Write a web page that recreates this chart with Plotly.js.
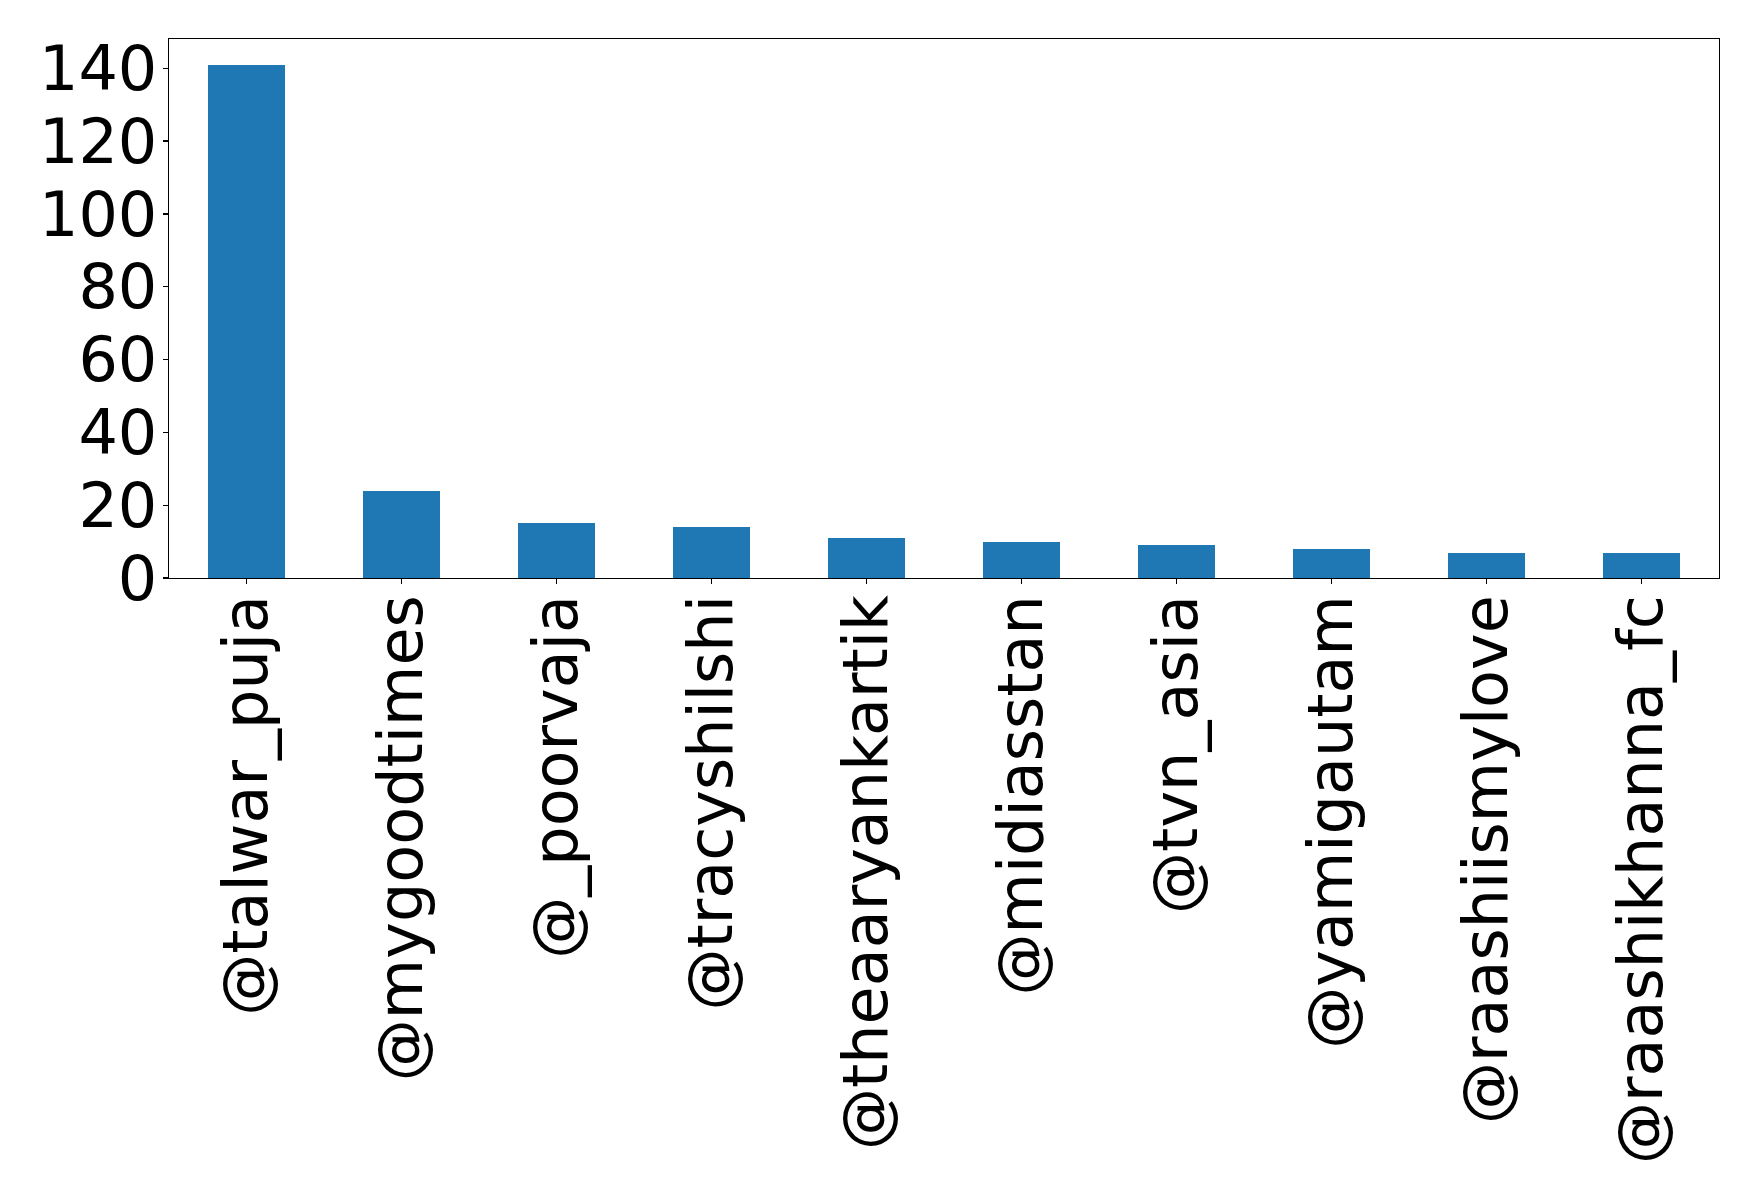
<!DOCTYPE html>
<html>
<head>
<meta charset="utf-8">
<script src="https://cdn.plot.ly/plotly-3.0.1.min.js"></script>
<style>html,body{margin:0;padding:0;background:#fff;}#chart{width:1758px;height:1201px;}</style>
</head>
<body>
<div id="chart"></div>
<script>
const handles = ["@talwar_puja", "@mygoodtimes", "@_poorvaja", "@tracyshilshi", "@theaaryankartik", "@midiasstan", "@tvn_asia", "@yamigautam", "@raashiismylove", "@raashikhanna_fc"];
const counts = [141, 24, 15, 14, 11, 10, 9, 8, 7, 7];
const yTicks = [0, 20, 40, 60, 80, 100, 120, 140];

const trace = {
  type: "bar",
  x: handles.map((_, i) => i),
  y: counts,
  width: 0.5,
  marker: {color: "#1f77b4", line: {width: 0}},
  hoverinfo: "x+y"
};

const tickFont = {family: "DejaVu Sans", size: 62, color: "#000"};

const layout = {
  width: 1758,
  height: 1201,
  margin: {l: 169, r: 39, t: 39, b: 623, pad: 0},
  paper_bgcolor: "#fff",
  plot_bgcolor: "#fff",
  showlegend: false,
  bargap: 0,
  xaxis: {
    range: [-0.5, 9.5],
    tickmode: "array",
    tickvals: handles.map((_, i) => i),
    ticktext: handles,
    tickangle: -90,
    tickfont: tickFont,
    ticks: "outside",
    ticklen: 5,
    tickwidth: 1.3,
    tickcolor: "#000",
    showline: true,
    mirror: true,
    linecolor: "#000",
    linewidth: 1.3,
    showgrid: false,
    zeroline: false,
    automargin: false,
    ticklabelstandoff: -14
  },
  yaxis: {
    range: [0, 148.05],
    tickmode: "array",
    tickvals: yTicks,
    ticktext: yTicks.map(String),
    tickfont: tickFont,
    ticks: "outside",
    ticklen: 5,
    tickwidth: 1.3,
    tickcolor: "#000",
    showline: true,
    mirror: true,
    linecolor: "#000",
    linewidth: 1.3,
    showgrid: false,
    zeroline: false,
    automargin: false,
    ticklabelstandoff: -7
  }
};

Plotly.newPlot("chart", [trace], layout, {displayModeBar: false, staticPlot: true});
</script>
</body>
</html>
